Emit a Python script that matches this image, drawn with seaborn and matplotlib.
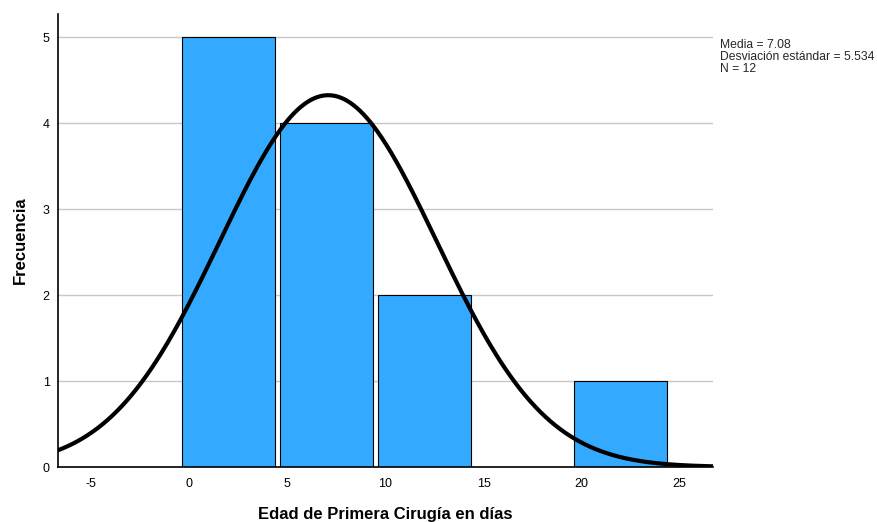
import numpy as np
import pandas as pd
import matplotlib
matplotlib.use("Agg")
import matplotlib.pyplot as plt
import seaborn as sns

# Data
bin_centers = [2, 7, 12, 17, 22]
counts = [5, 4, 2, 0, 1]
bin_edges = [-0.5, 4.5, 9.5, 14.5, 19.5, 24.5]
mean_val = 7.08
sd_val = 5.534
n_val = 12
bin_width = 5
x_ticks = [-5, 0, 5, 10, 15, 20, 25]
y_ticks = [0, 1, 2, 3, 4, 5]

sns.set_style("white")
plt.rcParams['font.family'] = ['Liberation Sans', 'DejaVu Sans']
plt.rcParams['axes.unicode_minus'] = False

fig = plt.figure(figsize=(8.77, 5.22), dpi=100)
ax = fig.add_axes([58/877, 1-467/522, (713-58)/877, (467-14)/522])

df = pd.DataFrame({"x": bin_centers, "w": counts})
sns.histplot(data=df, x="x", weights="w", bins=bin_edges, shrink=0.95,
             color="#33aaff", alpha=1.0, edgecolor="black", linewidth=0.8, ax=ax, zorder=2)

xs = np.linspace(-6.7, 26.7, 400)
ys = n_val * bin_width * np.exp(-0.5 * ((xs - mean_val) / sd_val) ** 2) / (sd_val * np.sqrt(2 * np.pi))
sns.lineplot(x=xs, y=ys, color="black", linewidth=3, ax=ax, zorder=3)

ax.set_xlim(-6.7, 26.7)
ax.set_ylim(0, 5.27)
ax.set_xticks(x_ticks)
ax.set_yticks(y_ticks)
ax.yaxis.grid(True, color="#c8c8c8", linewidth=1)
ax.set_axisbelow(True)
for s in ["top", "right"]:
    ax.spines[s].set_visible(False)
ax.spines["left"].set_color("black")
ax.spines["bottom"].set_color("black")
ax.spines["left"].set_linewidth(1.2)
ax.spines["bottom"].set_linewidth(1.2)
ax.tick_params(axis="both", length=0, labelsize=9, labelcolor="black")
ax.tick_params(axis="x", pad=8)
ax.tick_params(axis="y", pad=6)

ax.set_xlabel("Edad de Primera Cirugía en días", fontsize=12, fontweight="bold", labelpad=12, color="black")
ax.set_ylabel("Frecuencia", fontsize=12, fontweight="bold", labelpad=11, color="black")

fig.text(720/877, 1-39/522, f"Media = {mean_val:.2f}\nDesviación estándar = {sd_val:.3f}\nN = {n_val}",
         fontsize=8.7, va="top", ha="left", linespacing=0.98)

fig.savefig("out.png", dpi=100)
